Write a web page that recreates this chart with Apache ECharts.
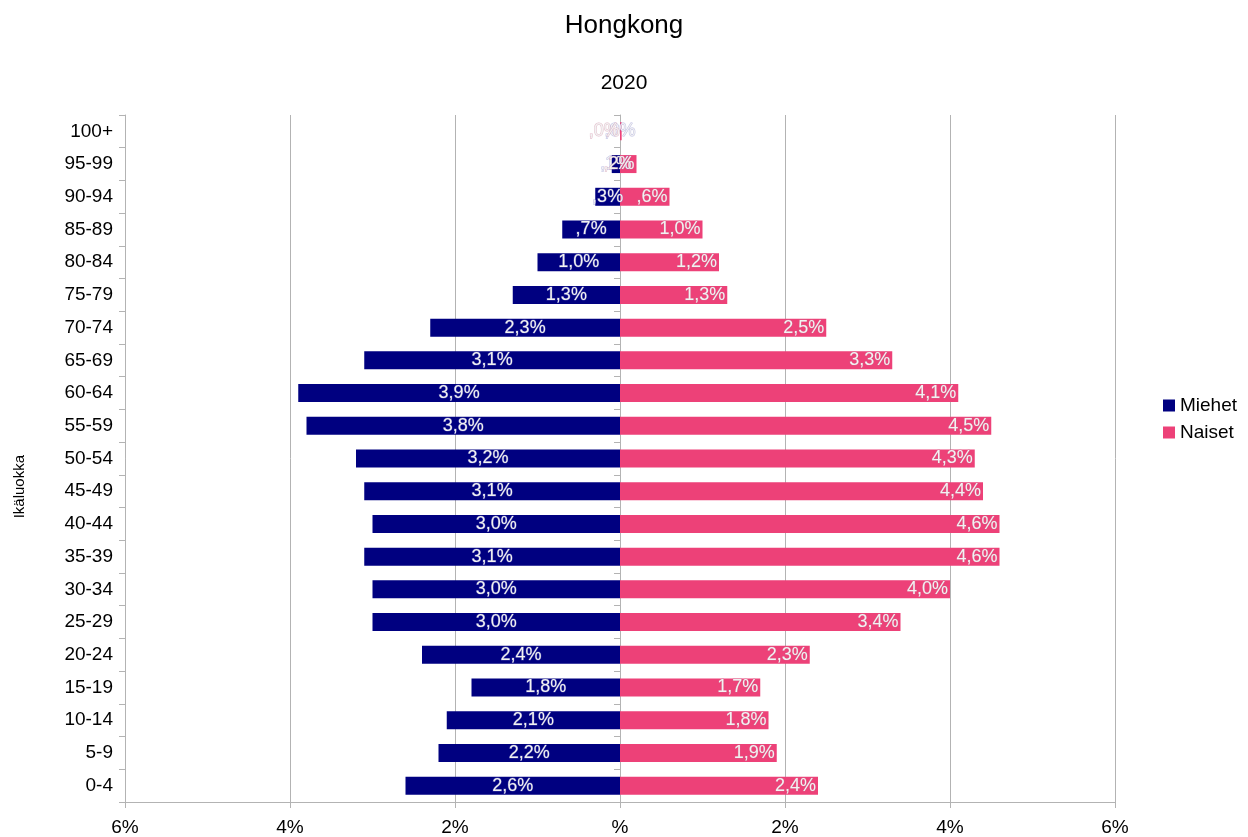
<!DOCTYPE html>
<html lang="fi">
<head>
    <meta charset="UTF-8">
    <title>Hongkong 2020</title>
    <script src="https://cdn.jsdelivr.net/npm/echarts@6/dist/echarts.min.js"></script>
</head>
<body style="margin:0;">
    <div id="main" style="width:1248px;height:837px;"></div>
</body>
<script type="text/javascript">
    // ikäluokat alhaalta ylös
    var ikaluokat = ['0-4', '5-9', '10-14', '15-19', '20-24', '25-29', '30-34', '35-39', '40-44', '45-49',
        '50-54', '55-59', '60-64', '65-69', '70-74', '75-79', '80-84', '85-89', '90-94', '95-99', '100+'];
    // osuudet prosentteina
    var miehet = [2.6, 2.2, 2.1, 1.8, 2.4, 3.0, 3.0, 3.1, 3.0, 3.1,
        3.2, 3.8, 3.9, 3.1, 2.3, 1.3, 1.0, 0.7, 0.3, 0.1, 0.0];
    var naiset = [2.4, 1.9, 1.8, 1.7, 2.3, 3.4, 4.0, 4.6, 4.6, 4.4,
        4.3, 4.5, 4.1, 3.3, 2.5, 1.3, 1.2, 1.0, 0.6, 0.2, 0.02];

    var fontName = 'Liberation Sans';

    // suomalainen muoto: pilkku, ei etunollaa -> ",3%"
    function pros(v) {
        var s = Math.abs(v).toFixed(1).replace('.', ',');
        if (s.charAt(0) === '0') s = s.substring(1);
        return s + '%';
    }
    function akseliPros(v) {
        return v === 0 ? '%' : Math.abs(v) + '%';
    }

    var myChart = echarts.init(document.getElementById('main'));

    var option = {
        textStyle: { fontFamily: fontName },
        title: [
            { text: 'Hongkong', left: 'center', top: 8,
              textStyle: { fontSize: 26, fontWeight: 'normal', color: '#000', fontFamily: fontName } },
            { text: '2020', left: 'center', top: 68,
              textStyle: { fontSize: 21, fontWeight: 'normal', color: '#000', fontFamily: fontName } }
        ],
        graphic: [{
            type: 'text', left: 12, top: 455, rotation: Math.PI / 2,
            style: { text: 'Ikäluokka', fontSize: 15, fill: '#000', fontFamily: fontName }
        }],
        legend: {
            orient: 'vertical',
            left: 1158, top: 391,
            itemWidth: 12, itemHeight: 12, itemGap: 8,
            icon: 'rect',
            textStyle: { fontSize: 19, color: '#000', fontFamily: fontName },
            data: ['Miehet', 'Naiset']
        },
        grid: { left: 125, right: 133, top: 115, bottom: 34, containLabel: false },
        xAxis: {
            type: 'value', min: -6, max: 6, interval: 2,
            axisLine: { show: true, lineStyle: { color: '#b3b3b3' } },
            axisTick: { show: true, length: 6, lineStyle: { color: '#b3b3b3' } },
            axisLabel: { formatter: akseliPros, fontSize: 19, color: '#000', margin: 16, fontFamily: fontName },
            splitLine: { show: true, lineStyle: { color: '#b3b3b3' } }
        },
        yAxis: [
            {
                type: 'category', data: ikaluokat, boundaryGap: true,
                axisLine: { show: true, onZero: false, lineStyle: { color: '#b3b3b3' } },
                axisTick: { show: true, length: 6, lineStyle: { color: '#b3b3b3' } },
                axisLabel: { fontSize: 19, color: '#000', margin: 12, fontFamily: fontName }
            },
            {
                type: 'category', data: ikaluokat, boundaryGap: true, position: 'left',
                axisLine: { show: true, onZero: true, lineStyle: { color: '#b3b3b3' } },
                axisTick: { show: true, length: 6, lineStyle: { color: '#b3b3b3' } },
                axisLabel: { show: false }
            }
        ],
        series: [
            {
                name: 'Miehet', type: 'bar', yAxisIndex: 0,
                data: miehet.map(function (v) { return -v; }),
                barWidth: '55%', barGap: '-100%',
                itemStyle: { color: '#000080' },
                label: {
                    show: true, position: 'inside',
                    formatter: function (p) { return pros(p.value); },
                    color: '#f2f2f2', fontSize: 18, fontFamily: fontName,
                    textBorderColor: 'rgba(120,120,200,0.5)', textBorderWidth: 1
                }
            },
            {
                name: 'Naiset', type: 'bar', yAxisIndex: 0,
                data: naiset,
                barWidth: '55%', barGap: '-100%',
                itemStyle: { color: '#ed4178' },
                label: {
                    show: true, position: 'insideRight', distance: 2,
                    formatter: function (p) { return pros(p.value); },
                    color: '#f2f2f2', fontSize: 18, fontFamily: fontName,
                    textBorderColor: 'rgba(200,120,150,0.5)', textBorderWidth: 1
                }
            }
        ]
    };

    myChart.setOption(option);
</script>
</html>
